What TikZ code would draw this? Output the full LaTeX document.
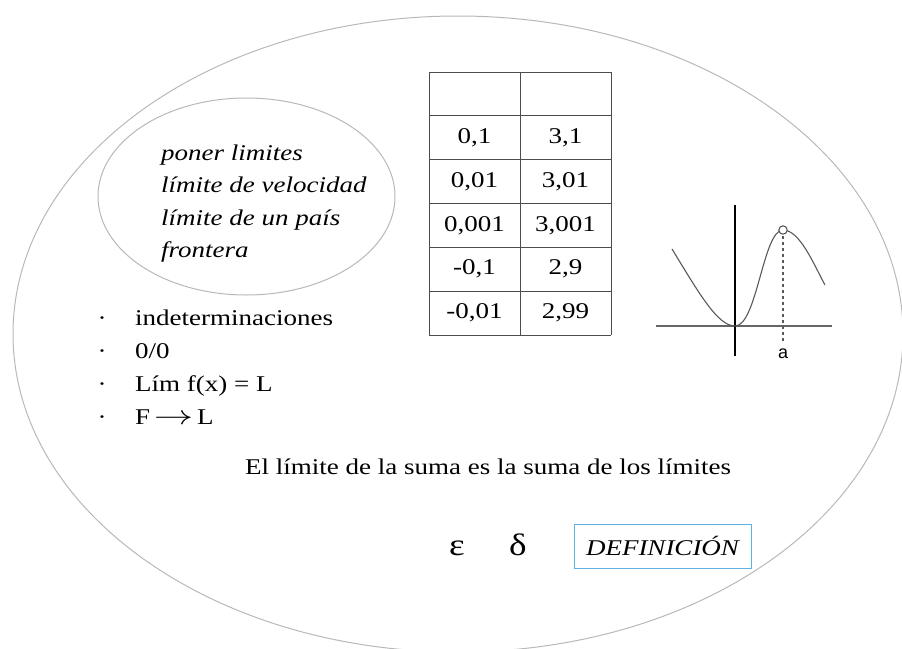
\documentclass[tikz,border=0pt]{standalone}
\usepackage{fontspec}
\setmainfont{Liberation Serif}[FakeStretch=1.2]
\setsansfont{Liberation Sans}
\usetikzlibrary{positioning}

\definecolor{rimGray}{gray}{0.72}
\definecolor{defBlue}{rgb}{0.36,0.70,0.88}

\newcommand{\bodyFont}{\fontsize{22.5}{26}\selectfont}
\newcommand{\greekFont}{\fontsize{31}{34}\selectfont}
\newcommand{\tendsTo}{\scalebox{1.9}[1.3]{$\rightarrow$}}

\begin{document}
\begin{tikzpicture}[
        x=1pt, y=-1pt,
        every node/.style={font=\bodyFont, inner sep=0pt},
        rimLine/.style={rimGray, line width=1.0pt},
        gridLine/.style={black!70, line width=0.8pt},
        axisLine/.style={black!60, line width=1.5pt},
        curveLine/.style={black!65, line width=1.1pt},
        defBox/.style={draw=defBlue, line width=1.0pt, minimum width=177pt,
            minimum height=44pt, font=\bodyFont\itshape}
    ]
        \useasboundingbox (0,0) rectangle (902,648);

        % outer ellipse, cut by the frame on the right and at the bottom
        \draw[rimLine] (458,334) ellipse [x radius=445, y radius=318];

        % inner ellipse with the everyday meanings
        \draw[rimLine] (246.5,196.5) ellipse [x radius=148.5, y radius=98.5];
        \node[anchor=base west, font=\bodyFont\itshape] (mean1) at (161,160) {poner limites};
        \node[anchor=base west, font=\bodyFont\itshape] (mean2) at (161,192.5) {límite de velocidad};
        \node[anchor=base west, font=\bodyFont\itshape] (mean3) at (161,225) {límite de un país};
        \node[anchor=base west, font=\bodyFont\itshape] (mean4) at (161,257.5) {frontera};

        % table of values
        \foreach \r in {0,...,6}
            \draw[gridLine] (429,{72+43.83*\r}) -- (611,{72+43.83*\r});
        \foreach \c in {429,520,611}
            \draw[gridLine] (\c,72) -- (\c,335);
        \foreach \xv/\yv [count=\i] in {{0,1}/{3,1}, {0,01}/{3,01}, {0,001}/{3,001}, {-0,1}/{2,9}, {-0,01}/{2,99}}
        {
            \node (xval\i) at (474.5,{72+43.83*(\i+0.5)}) {\xv};
            \node (yval\i) at (565.5,{72+43.83*(\i+0.5)}) {\yv};
        }

        % sketch of a function with a hole at a
        \coordinate (xl) at (656,326);
        \coordinate (xr) at (832,326);
        \coordinate (yb) at (735,356);
        \coordinate (yt) at (735,205);
        \draw[axisLine] (xl) -- (xr);
        \draw[black, line width=1.2pt] (yb) -- (yt);
        \coordinate (hole) at (783,230);
        \draw[curveLine] (672,249) .. controls (700,295) and (718,326) .. (735,326)
            .. controls (757,326) and (763,230) .. (hole)
            .. controls (800,230) and (814,265) .. (825,285);
        \draw[black!65, dashed, line width=1.1pt] (hole) -- (783,342);
        \node[anchor=base, font=\sffamily\fontsize{18}{20}\selectfont] (aLbl) at (783,358) {a};
        \draw[black!70, fill=white, line width=1.0pt] (hole) circle (4.2pt);

        % list of notions
        \foreach \txt [count=\i] in {indeterminaciones, 0/0, Lím f(x) = L, F\,\tendsTo\,L}
        {
            \node[anchor=base] (dot\i) at (102,{325+33.3*(\i-1)}) {·};
            \node[anchor=base west] (item\i) at (135,{325+33.3*(\i-1)}) {\txt};
        }

        \node[anchor=base] (sumRule) at (488,474) {El límite de la suma es la suma de los límites};

        % epsilon, delta and the definition
        \node[anchor=base, font=\greekFont] (eps) at (457,555) {ε};
        \node[anchor=base, font=\greekFont] (dlt) at (518,555) {δ};
        \node[defBox] (defn) at (662.5,546) {DEFINICIÓN};
\end{tikzpicture}
\end{document}
